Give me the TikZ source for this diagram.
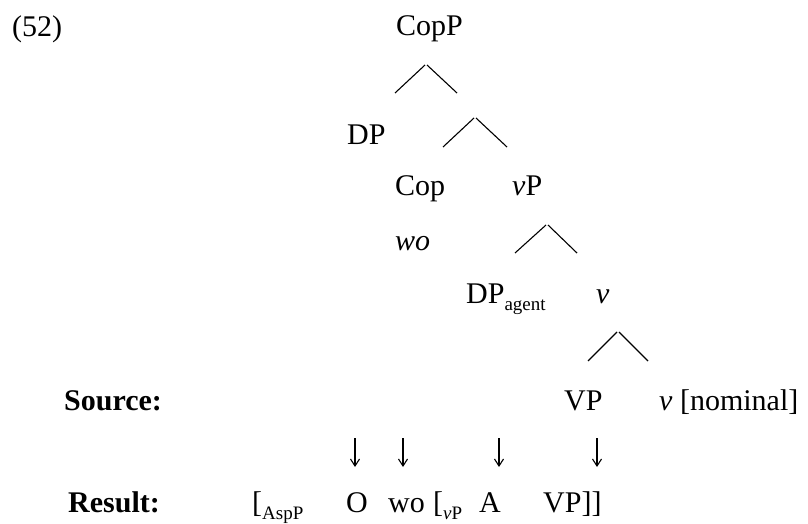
\documentclass[tikz,border=0pt]{standalone}
\usepackage{fontspec}
\setmainfont{Liberation Serif}
\usetikzlibrary{arrows.meta}
\newcommand{\lsub}[1]{\raisebox{-0.24em}{\fontsize{19}{19}\selectfont #1}}
\tikzset{
  txt/.style={inner sep=0pt, anchor=base west, font=\fontsize{30}{30}\selectfont},
  btxt/.style={txt, font=\fontsize{30}{30}\selectfont\bfseries},
  branch/.style={line width=1.1pt},
  mapto/.style={line width=1.1pt, -{Straight Barb[length=7pt,width=9pt,line width=1.1pt]}}
}
\begin{document}
\begin{tikzpicture}[x=1pt,y=-1pt]
\useasboundingbox (0,0) rectangle (808,524);
% labels
\node[txt] (ex) at (12,37) {(52)};
\node[txt] (copp) at (396,36) {CopP};
\node[txt] (dp) at (347,145) {DP};
\node[txt] (cop) at (395,195) {Cop};
\node[txt] (vp) at (512,195) {\textit{v}P};
\node[txt] (wo) at (395,250) {\textit{wo}};
\node[txt] (dpag) at (466,303) {DP\lsub{agent}};
\node[txt] (vv) at (596,303) {\textit{v}};
\node[btxt] (src) at (64,410) {Source:};
\node[txt] (vp2) at (564,410) {VP};
\node[txt] (vnom) at (659,410) {\textit{v} [nominal]};
\node[btxt] (res) at (68,512) {Result:};
\node[txt] (asp) at (252,512) {[\lsub{AspP}};
\node[txt] (o) at (346,512) {O};
\node[txt] (wo2) at (388,512) {wo};
\node[txt] (vpb) at (433,512) {[\lsub{\textit{v}P}};
\node[txt] (a) at (479,512) {A};
\node[txt] (vpr) at (543,512) {VP]]};
% branching carets
\coordinate (c1) at (426,65); \coordinate (c1l) at (395,93); \coordinate (c1r) at (457,93);
\coordinate (c2) at (475,118); \coordinate (c2l) at (443,147); \coordinate (c2r) at (507,147);
\coordinate (c3) at (547,225); \coordinate (c3l) at (515,253); \coordinate (c3r) at (577,253);
\coordinate (c4) at (618,332); \coordinate (c4l) at (588,361); \coordinate (c4r) at (648,361);
\foreach \c in {c1,c2,c3,c4}{
  \draw[branch] ([xshift=-1pt]\c) -- (\c l);
  \draw[branch] ([xshift=1pt]\c) -- (\c r);
}
% arrows
\foreach \n/\x in {1/355,2/403,3/499,4/597}{
  \coordinate (s\n) at (\x,438);
  \coordinate (e\n) at (\x,467);
  \draw[mapto] (s\n) -- (e\n);
}
\end{tikzpicture}
\end{document}
